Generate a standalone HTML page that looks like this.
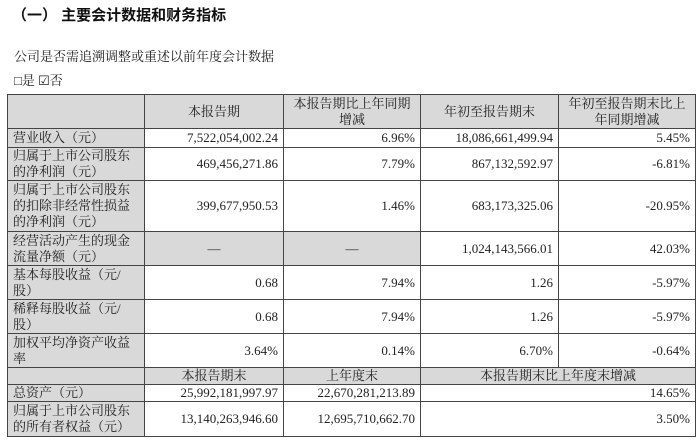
<!DOCTYPE html>
<html><head><meta charset="utf-8"><style>
body{margin:0;width:700px;height:446px;background:#fff;overflow:hidden;font-family:"Liberation Serif","Noto Serif CJK SC",serif;color:#222}
.t{position:absolute;left:12px;top:4px;font:bold 15px "Liberation Sans","Noto Sans CJK SC",sans-serif;color:#111}
.p1{position:absolute;left:14px;top:46px;font-size:13px}
.p2{position:absolute;left:14px;top:70px;font-size:13px}
table{position:absolute;left:7px;top:94px;border-collapse:collapse;table-layout:fixed;font-size:13px}
td{border:1.5px solid #444;padding:0 5px;line-height:16px;overflow:hidden}
.g{background:#d9d9d9}
.r{text-align:right}.c{text-align:center}
</style></head><body>
<div class="t">（一） 主要会计数据和财务指标</div>
<div class="p1">公司是否需追溯调整或重述以前年度会计数据</div>
<div class="p2">□是 ☑否</div>
<table>
<col style="width:137px"><col style="width:139px"><col style="width:137px"><col style="width:138px"><col style="width:137px">
<tr style="height:34px"><td class="g"></td><td class="g c">本报告期</td><td class="g c">本报告期比上年同期增减</td><td class="g c">年初至报告期末</td><td class="g c">年初至报告期末比上年同期增减</td></tr>
<tr style="height:19px"><td class="g">营业收入（元）</td><td class="r">7,522,054,002.24</td><td class="r">6.96%</td><td class="r">18,086,661,499.94</td><td class="r">5.45%</td></tr>
<tr style="height:31px"><td class="g">归属于上市公司股东的净利润（元）</td><td class="r">469,456,271.86</td><td class="r">7.79%</td><td class="r">867,132,592.97</td><td class="r">-6.81%</td></tr>
<tr style="height:51px"><td class="g">归属于上市公司股东的扣除非经常性损益的净利润（元）</td><td class="r">399,677,950.53</td><td class="r">1.46%</td><td class="r">683,173,325.06</td><td class="r">-20.95%</td></tr>
<tr style="height:34px"><td class="g">经营活动产生的现金流量净额（元）</td><td class="g c">—</td><td class="g c">—</td><td class="r">1,024,143,566.01</td><td class="r">42.03%</td></tr>
<tr style="height:34px"><td class="g">基本每股收益（元/股）</td><td class="r">0.68</td><td class="r">7.94%</td><td class="r">1.26</td><td class="r">-5.97%</td></tr>
<tr style="height:34px"><td class="g">稀释每股收益（元/股）</td><td class="r">0.68</td><td class="r">7.94%</td><td class="r">1.26</td><td class="r">-5.97%</td></tr>
<tr style="height:34px"><td class="g">加权平均净资产收益率</td><td class="r">3.64%</td><td class="r">0.14%</td><td class="r">6.70%</td><td class="r">-0.64%</td></tr>
<tr style="height:17px"><td class="g"></td><td class="g c">本报告期末</td><td class="g c">上年度末</td><td class="g c" colspan="2">本报告期末比上年度末增减</td></tr>
<tr style="height:17px"><td class="g">总资产（元）</td><td class="r">25,992,181,997.97</td><td class="r">22,670,281,213.89</td><td class="r" colspan="2">14.65%</td></tr>
<tr style="height:35px"><td class="g">归属于上市公司股东的所有者权益（元）</td><td class="r">13,140,263,946.60</td><td class="r">12,695,710,662.70</td><td class="r" colspan="2">3.50%</td></tr>
</table>
</body></html>
